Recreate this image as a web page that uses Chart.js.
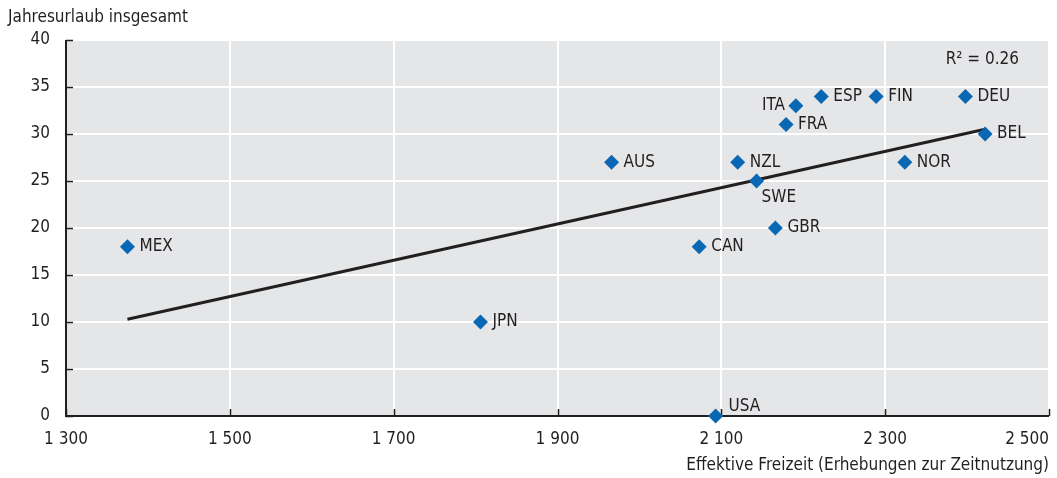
<!DOCTYPE html>
<html>
<head>
<meta charset="utf-8">
<script src="https://cdn.jsdelivr.net/npm/chart.js@4"></script>
<style>
  html, body { margin: 0; padding: 0; background: #fff; }
  #wrap { width: 1057px; height: 478px; position: relative; }
</style>
</head>
<body>
<div id="wrap"><canvas id="c"></canvas></div>
<script>
// Country codes, effective leisure time (hours) and total annual leave (days)
const countries = ['MEX', 'JPN', 'AUS', 'CAN', 'USA', 'NZL', 'SWE', 'GBR', 'FRA', 'ITA', 'ESP', 'FIN', 'NOR', 'DEU', 'BEL'];
const freizeit  = [1375, 1806, 1966, 2073, 2093, 2120, 2143, 2166, 2179, 2191, 2222, 2289, 2324, 2398, 2422];
const urlaub    = [18, 10, 27, 18, 0, 27, 25, 20, 31, 33, 34, 34, 27, 34, 30];
// Label placement per country: right (default), left, below, above
const labelSide = ['r', 'r', 'r', 'r', 'a', 'r', 'b', 'r', 'r', 'l', 'r', 'r', 'r', 'r', 'r'];
// Linear trend line end points
const trendX = [1375, 2422];
const trendY = [10.3, 30.5];
const xTicks = [1300, 1500, 1700, 1900, 2100, 2300, 2500];
const yTicks = [0, 5, 10, 15, 20, 25, 30, 35, 40];
const r2Text = 'R² = 0.26';
const yTitle = 'Jahresurlaub insgesamt';
const xTitle = 'Effektive Freizeit (Erhebungen zur Zeitnutzung)';

const FONT = '"Liberation Sans Narrow", "Arial Narrow", "DejaVu Sans Condensed", sans-serif';
const FS = 17;
const TXT = '#231f20';
const BLUE = '#0a67b4';

function fmt(v) {
  const s = String(v);
  return s.length > 3 ? s.slice(0, s.length - 3) + ' ' + s.slice(-3) : s;
}

const frame = {
  id: 'frame',
  beforeDraw(chart) {
    const { ctx, chartArea: a } = chart;
    ctx.save();
    ctx.fillStyle = '#e5e6e8';
    ctx.fillRect(a.left, a.top, a.right - a.left, a.bottom - a.top);
    ctx.restore();
  },
  beforeDatasetsDraw(chart) {
    const { ctx, chartArea: a, scales } = chart;
    ctx.save();
    ctx.strokeStyle = TXT;
    ctx.lineWidth = 2;
    ctx.beginPath();
    ctx.moveTo(a.left, a.top);
    ctx.lineTo(a.left, a.bottom);
    ctx.lineTo(a.right, a.bottom);
    ctx.stroke();
    ctx.lineWidth = 1.5;
    ctx.beginPath();
    xTicks.forEach(v => {
      const x = Math.round(scales.x.getPixelForValue(v)) + 0.5;
      ctx.moveTo(x, a.bottom);
      ctx.lineTo(x, a.bottom - 7);
    });
    yTicks.forEach(v => {
      const y = Math.round(scales.y.getPixelForValue(v)) + 0.5;
      ctx.moveTo(a.left, y);
      ctx.lineTo(a.left + 7, y);
    });
    ctx.stroke();
    ctx.restore();
  },
  afterDraw(chart) {
    const { ctx, chartArea: a, scales } = chart;
    ctx.save();
    ctx.fillStyle = TXT;
    ctx.font = FS + 'px ' + FONT;
    ctx.textBaseline = 'middle';
    // x-axis tick labels (last one kept inside the canvas)
    xTicks.forEach((v, i) => {
      const x = scales.x.getPixelForValue(v);
      ctx.textAlign = i === xTicks.length - 1 ? 'right' : 'center';
      ctx.fillText(fmt(v), x, a.bottom + 24);
    });
    // point labels
    countries.forEach((c, i) => {
      const x = scales.x.getPixelForValue(freizeit[i]);
      const y = scales.y.getPixelForValue(urlaub[i]);
      const side = labelSide[i];
      if (side === 'l') { ctx.textAlign = 'right'; ctx.fillText(c, x - 11, y); }
      else if (side === 'b') { ctx.textAlign = 'left'; ctx.fillText(c, x + 5, y + 17); }
      else if (side === 'a') { ctx.textAlign = 'left'; ctx.fillText(c, x + 13, y - 9); }
      else { ctx.textAlign = 'left'; ctx.fillText(c, x + 12, y); }
    });
    // R squared
    ctx.textAlign = 'right';
    ctx.fillText(r2Text, a.right - 30, 60);
    // axis titles
    ctx.textAlign = 'left';
    ctx.fillText(yTitle, 8, 18);
    ctx.textAlign = 'right';
    ctx.fillText(xTitle, a.right, 466);
    ctx.restore();
  }
};

new Chart(document.getElementById('c'), {
  type: 'scatter',
  data: {
    datasets: [
      {
        type: 'line',
        data: trendX.map((x, i) => ({ x, y: trendY[i] })),
        borderColor: TXT,
        borderWidth: 3,
        pointRadius: 0,
        fill: false,
        order: 2
      },
      {
        data: freizeit.map((x, i) => ({ x, y: urlaub[i] })),
        pointStyle: 'rectRot',
        pointRadius: 7.5,
        backgroundColor: BLUE,
        borderColor: BLUE,
        borderWidth: 0,
        clip: false,
        order: 1
      }
    ]
  },
  plugins: [frame],
  options: {
    responsive: true,
    maintainAspectRatio: false,
    animation: false,
    layout: { padding: { top: 40, right: 8, left: 0, bottom: 0 } },
    plugins: { legend: { display: false }, tooltip: { enabled: false } },
    scales: {
      x: {
        type: 'linear',
        min: 1300, max: 2500,
        afterBuildTicks(s) { s.ticks = xTicks.map(v => ({ value: v })); },
        afterFit(s) { s.height = 62; s.paddingLeft = 0; s.paddingRight = 0; },
        grid: { color: '#ffffff', lineWidth: 2, drawTicks: false },
        border: { display: false },
        ticks: { display: false }
      },
      y: {
        min: 0, max: 40,
        afterBuildTicks(s) { s.ticks = yTicks.map(v => ({ value: v })); },
        afterFit(s) { s.width = 66; s.paddingTop = 0; s.paddingBottom = 0; },
        grid: { color: '#ffffff', lineWidth: 2, drawTicks: false },
        border: { display: false },
        ticks: {
          padding: 16,
          color: TXT,
          font: { family: FONT, size: FS }
        }
      }
    }
  }
});
</script>
</body>
</html>
